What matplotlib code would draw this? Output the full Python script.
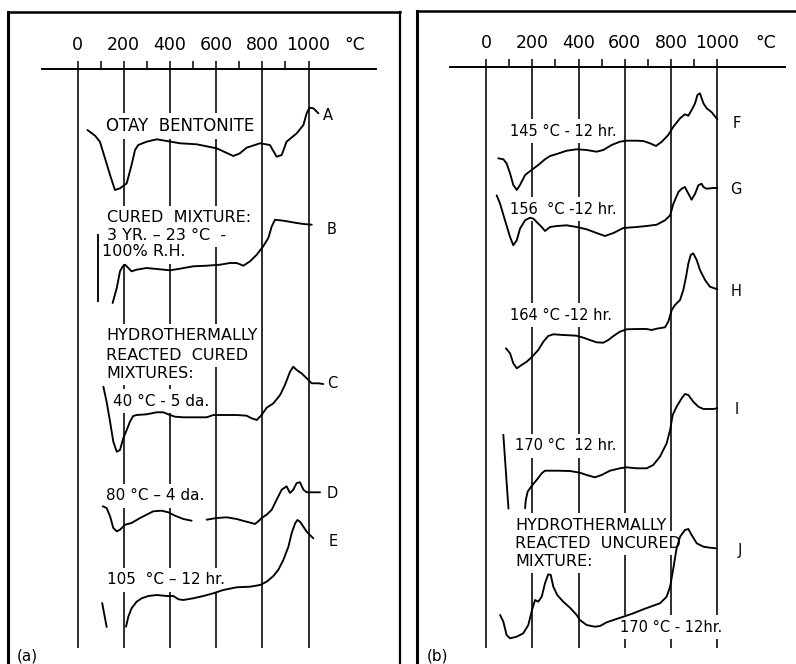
import numpy as np
import matplotlib
matplotlib.use("Agg")
import matplotlib.pyplot as plt
from matplotlib.ticker import FixedLocator, NullFormatter

# ---------------- data (temperature in deg C, DTA deflection in arbitrary units) ----------------
temp_A = [43, 76, 97, 119, 141, 162, 184, 213, 234, 249, 263, 299, 343, 386, 444, 516, 602, 675, 703,
          732, 790, 833, 862, 884, 905, 949, 978, 992, 1004, 1021, 1043]
dta_A = [13, 7.3, 1.3, -15.3, -32, -47, -45.3, -40.3, -22, -7, -2, 1.3, 3.7, 2, -0.3, -1.3, -5.3, -13,
         -10.3, -4.7, -0.3, -2, -13.7, -12, 1.3, 9.7, 18, 29.7, 35.3, 34.7, 29.7]

temp_B = [152, 170, 184, 196, 206, 220, 234, 256, 299, 343, 400, 444, 501, 559, 617, 660, 689, 718,
          747, 776, 804, 826, 841, 855, 891, 949, 978, 1014]
dta_B = [-35, -20, -3.3, 1.7, 3.3, 0, -3.3, -1.7, 0, -1, -2.3, -0.7, 1.7, 2.3, 3.3, 5, 5, 2.3, 6.7,
         13.3, 21.7, 30, 41.7, 48.3, 47.3, 45, 44, 43.3]

temp_C = [112, 126, 141, 155, 170, 184, 198, 213, 227, 241, 256, 299, 343, 372, 400, 422, 458, 516,
          559, 588, 631, 689, 732, 754, 776, 797, 819, 848, 877, 898, 920, 934, 949, 970, 992, 1014,
          1043, 1064]
dta_C = [28.3, 13.3, -6.7, -26.7, -36.7, -35, -23.3, -15, -6.7, -1, 0, 0.7, 2.7, 2.7, 0, -1.7, -2.3,
         -2.3, -2.3, 0, 0, 0, -0.7, -3.3, -5, 0, 7.3, 11.7, 20, 30, 43.3, 48.3, 45, 41.7, 36.7, 31.7,
         31.7, 31]

temp_D = [109, 126, 141, 155, 170, 184, 206, 234, 271, 299, 328, 364, 393, 422, 458, 494, np.nan,
          559, 602, 646, 689, 725, 754, 768, 783, 797, 819, 841, 862, 884, 905, 920, 934, 949, 963,
          978, 992, 1021, 1050]
dta_D = [11.7, 10, 1.7, -10, -13.3, -11.7, -6.7, -5, 0, 3.3, 6.7, 7.3, 5.7, 2.3, -1, -2.7, np.nan,
         -1.7, 0, 0.7, -1, -3.3, -5, -6, -3.3, 0, 3.3, 8.3, 18.3, 28.3, 31.7, 25, 28.3, 35, 35.7,
         28.3, 25.7, 25.7, 25.7]

temp_E = [210, 220, 234, 256, 278, 307, 343, 386, 415, 437, 458, 501, 545, 588, 631, 689, 747, 790,
          819, 848, 869, 891, 913, 927, 942, 952, 963, 978, 992, 1006, 1021]
dta_E = [-30.7, -20.7, -12.3, -5.7, -2.3, 0, 1, 0, 0, -3.3, -4, -2.3, 0, 2.7, 6, 8.7, 9.3, 11, 14.3,
         20, 26, 36, 49.3, 62.7, 72.7, 76, 74.3, 69.3, 64.3, 61, 57.7]

temp_F = [53, 75, 89, 104, 118, 133, 147, 169, 197, 226, 255, 277, 306, 349, 392, 435, 478, 507,
          543, 579, 608, 651, 680, 709, 735, 760, 788, 810, 839, 860, 875, 889, 904, 914, 925, 940,
          954, 976, 1000]
dta_F = [-8.3, -9.3, -13.3, -23.3, -35, -40, -35, -25, -20, -15, -9.3, -6, -4, -0.7, 0.7, 0, -1.7, 0,
         5, 8.3, 9.3, 9.3, 9, 6.7, 4, 8.3, 15, 23.3, 31.7, 35.7, 34.3, 40, 46.7, 55, 56.7, 46.7,
         41.7, 37.7, 30.7]

temp_G = [46, 61, 82, 104, 118, 133, 147, 169, 190, 205, 219, 241, 255, 277, 306, 349, 392, 435,
          478, 514, 551, 594, 651, 695, 738, 774, 796, 810, 832, 846, 860, 875, 889, 904, 918, 932,
          940, 954, 983, 1000]
dta_G = [31.7, 23.3, 6.7, -10, -18.3, -13.3, -1.7, 6.7, 9.3, 8.3, 5, 0, -4, 0, 1, 1.7, 0, -2.3, -6,
         -9, -6, -1, 0, 1, 2.3, 6.7, 11.7, 23.3, 35, 38.3, 40, 33.3, 27.3, 33.3, 41.7, 43.3, 40,
         38.3, 39, 39]

temp_H = [86, 104, 118, 133, 154, 176, 197, 226, 248, 269, 291, 334, 392, 421, 449, 478, 507, 529,
          551, 579, 608, 651, 695, 716, 738, 774, 788, 803, 817, 839, 853, 865, 875, 885, 896, 911,
          925, 947, 968, 1000]
dta_H = [-13.3, -18.3, -28.3, -33.3, -30, -26.7, -22.3, -15, -6.7, -1, 0.7, 0, -0.7, -2.7, -5, -7.3,
         -7.7, -5, -1, 3.3, 5.7, 6, 6, 5, 6.3, 7.7, 13.3, 25, 30, 35, 45, 58.3, 71.7, 80, 81.7, 75,
         65, 55, 48.3, 45.7]

temp_I = [169, 172, 180, 197, 219, 241, 255, 306, 363, 406, 435, 471, 500, 536, 579, 608, 651, 695,
          723, 752, 781, 796, 807, 824, 846, 860, 875, 896, 918, 940, 983, 1000]
dta_I = [-38.3, -30, -21.7, -16, -10, -3.3, -0.7, -0.7, -1, -2.7, -5, -7.3, -5, -0.7, 1.7, 2.7, 1.7,
         1.7, 5, 13.3, 26.7, 40, 55, 63.3, 71.7, 76, 75, 68.3, 63.3, 61, 61, 61.7]

temp_J = [61, 75, 89, 104, 133, 161, 183, 197, 212, 226, 241, 255, 269, 280, 291, 308, 334, 363, 392,
          406, 435, 471, 493, 522, 551, 594, 637, 680, 723, 752, 781, 796, 810, 824, 839, 860, 875,
          889, 911, 940, 968, 994]
dta_J = [10, 3.3, -10, -13.3, -11.7, -8.3, 0, 13.3, 25, 23.3, 28.3, 41.7, 50.7, 50, 38.3, 30, 23.3,
         17.3, 10, 5, 0, -1.7, -1, 2.7, 5, 8.3, 11.7, 15.7, 19.3, 21.7, 28.3, 38.3, 56.7, 76.7, 88.3,
         95, 96, 90, 81.7, 78.3, 77.3, 76.7]

# short pen strokes at the start of some traces (temperature pairs, deflection pairs)
stroke_B = ([90, 90], [33.3, -33.3])
stroke_E = ([107, 126], [-7.3, -30.7])
stroke_I = ([75, 97], [35, -38.3])

curve_letters_left = ["A", "B", "C", "D", "E"]
curve_letters_right = ["F", "G", "H", "I", "J"]
baseline_left = [521, 396, 249, 146, 68]
baseline_right = [514, 437, 329, 194, 39]

major_ticks = [0, 200, 400, 600, 800, 1000]
minor_ticks = [100, 300, 500, 700, 900]
tick_labels = ["0", "200", "400", "600", "800", "1000"]

# ---------------- figure ----------------
W, H = 796, 664
fig = plt.figure(figsize=(W / 100, H / 100), dpi=100)
fig.patch.set_facecolor("white")

FONT = "DejaVu Sans"
LW = 1.35
GLW = 1.15


def make_panel(px_left, px_right, px_top, px0, px_per_deg, axis_py, axis_px_span, right_spine):
    ax = fig.add_axes([px_left / W, 0, (px_right - px_left) / W, (H - px_top) / H])
    ax.set_xlim((px_left - px0) / px_per_deg, (px_right - px0) / px_per_deg)
    ax.set_ylim(0, H - px_top)
    ax.set_facecolor("white")
    axis_y = H - axis_py
    # temperature axis drawn as the (moved) top spine
    ax.spines["top"].set_position(("data", axis_y))
    ax.spines["top"].set_bounds((axis_px_span[0] - px0) / px_per_deg,
                                (axis_px_span[1] - px0) / px_per_deg)
    ax.spines["top"].set_linewidth(1.4)
    ax.spines["bottom"].set_visible(False)
    ax.spines["left"].set_linewidth(2.2)
    ax.spines["right"].set_visible(right_spine)
    ax.spines["right"].set_linewidth(1.6)
    ax.xaxis.set_ticks_position("top")
    ax.xaxis.set_major_locator(FixedLocator(major_ticks))
    ax.xaxis.set_minor_locator(FixedLocator(minor_ticks))
    ax.set_xticklabels(tick_labels, fontsize=12.5, family=FONT)
    ax.xaxis.set_minor_formatter(NullFormatter())
    ax.tick_params(axis="x", which="both", direction="out", length=5.5, width=1.1, pad=5)
    ax.set_yticks([])
    # upper frame line
    ax.axhline(H - px_top, color="black", lw=1.8, clip_on=False)
    # vertical reference lines
    ax.vlines(major_ticks, 16, axis_y, color="black", lw=GLW, zorder=1)
    return ax, axis_y


axL, yL = make_panel(8, 400, 12, 77.5, 0.231, 69, (42, 376), True)
axR, yR = make_panel(417, 797, 11, 486, 0.2313, 67, (450, 785), False)

axL.text(1201, yL + 15, "°C", fontsize=12.5, family=FONT, ha="center", va="bottom")
axR.text(1210, yR + 15, "°C", fontsize=12.5, family=FONT, ha="center", va="bottom")

box = dict(facecolor="white", edgecolor="none", pad=3)

# ---- left panel curves ----
left_curves = [(temp_A, dta_A), (temp_B, dta_B), (temp_C, dta_C), (temp_D, dta_D), (temp_E, dta_E)]
for (t, d), base in zip(left_curves, baseline_left):
    axL.plot(t, np.array(d, dtype=float) + base, color="black", lw=LW, zorder=4,
             solid_joinstyle="round", solid_capstyle="round")
axL.plot(stroke_B[0], np.array(stroke_B[1]) + baseline_left[1], color="black", lw=LW, zorder=4)
axL.plot(stroke_E[0], np.array(stroke_E[1]) + baseline_left[4], color="black", lw=LW, zorder=4)

right_curves = [(temp_F, dta_F), (temp_G, dta_G), (temp_H, dta_H), (temp_I, dta_I), (temp_J, dta_J)]
for (t, d), base in zip(right_curves, baseline_right):
    axR.plot(t, np.array(d, dtype=float) + base, color="black", lw=LW, zorder=4,
             solid_joinstyle="round", solid_capstyle="round")
axR.plot(stroke_I[0], np.array(stroke_I[1]) + baseline_right[3], color="black", lw=LW, zorder=4)

# curve letters
for letter, (tx, ty) in zip(curve_letters_left, [(1084, 549), (1102, 435), (1102, 280), (1102, 170), (1106, 122)]):
    axL.text(tx, ty, letter, fontsize=10.5, family=FONT, ha="center", va="center")
for letter, (tx, ty) in zip(curve_letters_right, [(1085, 541), (1081, 474), (1081, 372), (1085, 254), (1098, 113)]):
    axR.text(tx, ty, letter, fontsize=10.5, family=FONT, ha="center", va="center")

# annotations, left
left_text = [
    (123, 538, "OTAY  BENTONITE", 12),
    (128, 446, "CURED  MIXTURE:", 11.5),
    (128, 429, "3 YR. – 23 °C  -", 11.5),
    (106, 412, "100% R.H.", 11.5),
    (123, 328, "HYDROTHERMALLY", 11.5),
    (123, 309, "REACTED  CURED", 11.5),
    (123, 291, "MIXTURES:", 11.5),
    (154, 263, "40 °C - 5 da.", 11),
    (123, 168, "80 °C – 4 da.", 11),
    (128, 84, "105  °C – 12 hr.", 11),
]
for tx, ty, s, fs in left_text:
    axL.text(tx, ty, s, fontsize=fs, family=FONT, ha="left", va="center", bbox=box, zorder=3)
axL.text(-262, 8, "(a)", fontsize=11, family=FONT, ha="left", va="center", zorder=3)

right_text = [
    (104, 533, "145 °C - 12 hr.", 10.5),
    (104, 455, "156  °C -12 hr.", 10.5),
    (104, 349, "164 °C -12 hr.", 10.5),
    (125, 218, "170 °C  12 hr.", 10.5),
    (125, 139, "HYDROTHERMALLY", 11.5),
    (125, 121, "REACTED  UNCURED", 11.5),
    (125, 103, "MIXTURE:", 11.5),
    (579, 37, "170 °C - 12hr.", 10.5),
]
for tx, ty, s, fs in right_text:
    axR.text(tx, ty, s, fontsize=fs, family=FONT, ha="left", va="center", bbox=box, zorder=3)
axR.text(-255, 8, "(b)", fontsize=11, family=FONT, ha="left", va="center", zorder=3)

fig.savefig("out.png", dpi=100, facecolor="white")
